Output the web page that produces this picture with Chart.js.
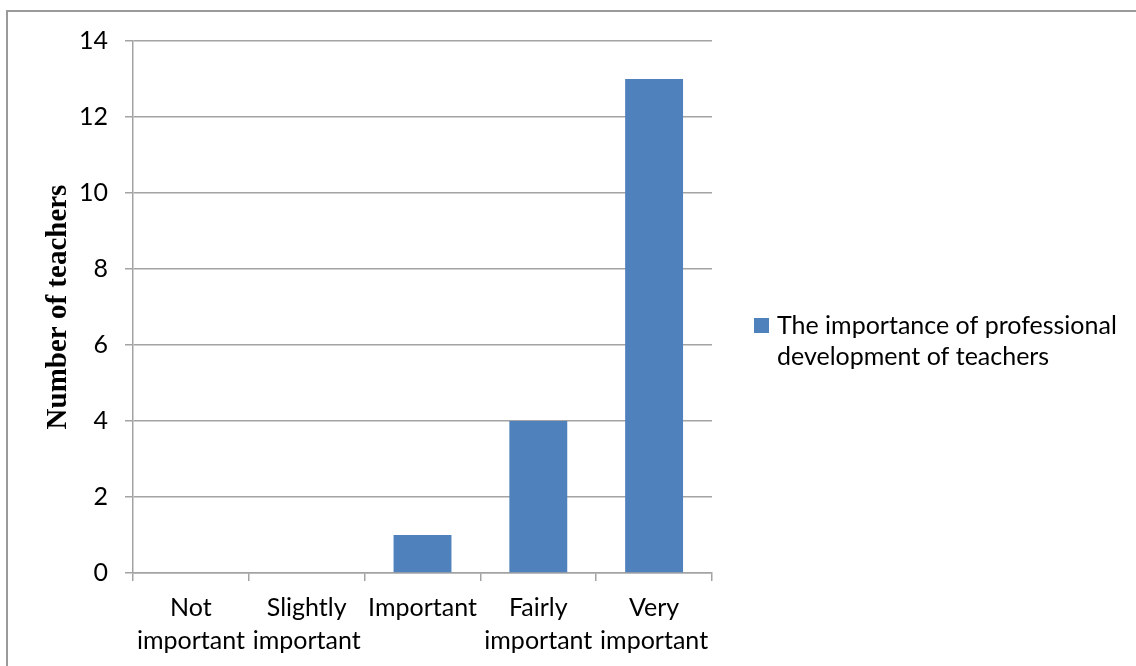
<!DOCTYPE html>
<html lang="en">
<head>
    <meta charset="UTF-8">
    <title>The importance of professional development of teachers</title>
    <script src="https://cdn.jsdelivr.net/npm/chart.js"></script>
    <style>
        html, body { margin: 0; padding: 0; background: #fff; }
        #wrap { width: 1136px; height: 666px; position: relative; }
    </style>
</head>
<body>
    <div id="wrap">
        <canvas id="myChart"></canvas>
    </div>

    <script>
        // chart data
        const categories = [
            ['Not', 'important'],
            ['Slightly', 'important'],
            ['Important'],
            ['Fairly', 'important'],
            ['Very', 'important']
        ];
        const teacherCounts = [0, 0, 1, 4, 13];
        const seriesLabel = 'The importance of professional development of teachers';
        const yMin = 0;
        const yMax = 14;
        const yStep = 2;

        const tickFont = { family: 'Lato', size: 25 };
        const gridColor = '#a3a3a3';

        // frame around the whole picture (cut off at right/bottom like the original)
        const framePlugin = {
            id: 'frame',
            beforeDraw(chart) {
                const c = chart.ctx;
                c.save();
                c.strokeStyle = '#9a9a9a';
                c.lineWidth = 2;
                c.strokeRect(7, 11, 1200, 700);
                c.restore();
            }
        };

        // legend on the right with wrapped text
        const sideLegend = {
            id: 'sideLegend',
            afterDraw(chart) {
                const c = chart.ctx;
                const ds = chart.data.datasets[0];
                const x = chart.chartArea.right + 42;
                const y = 326;
                c.save();
                c.fillStyle = ds.backgroundColor;
                c.fillRect(x, y - 8, 15, 15);
                c.font = '25px Lato';
                c.fillStyle = '#000';
                c.textBaseline = 'middle';
                // wrap words
                const maxW = 350;
                const words = ds.label.split(' ');
                const lines = [];
                let cur = '';
                words.forEach(w => {
                    const test = cur ? cur + ' ' + w : w;
                    if (c.measureText(test).width > maxW && cur) {
                        lines.push(cur);
                        cur = w;
                    } else {
                        cur = test;
                    }
                });
                if (cur) lines.push(cur);
                lines.forEach((ln, i) => c.fillText(ln, x + 23, y + i * 31));
                c.restore();
            }
        };

        const ctx = document.getElementById('myChart').getContext('2d');
        const chart = new Chart(ctx, {
            type: 'bar',
            data: {
                labels: categories,
                datasets: [{
                    label: seriesLabel,
                    data: teacherCounts,
                    backgroundColor: '#4f81bd',
                    borderWidth: 0,
                    categoryPercentage: 1.0,
                    barPercentage: 0.5
                }]
            },
            options: {
                responsive: true,
                maintainAspectRatio: false,
                animation: false,
                layout: {
                    padding: { top: 41, right: 424, left: 0, bottom: 0 }
                },
                plugins: {
                    legend: { display: false },
                    tooltip: { enabled: false }
                },
                scales: {
                    x: {
                        grid: {
                            offset: true,
                            drawOnChartArea: false,
                            color: gridColor,
                            lineWidth: 1.5,
                            tickLength: 8
                        },
                        border: { color: gridColor, width: 1.5 },
                        ticks: {
                            color: '#000',
                            font: { family: 'Lato', size: 25, lineHeight: 1.32 },
                            padding: 10,
                            maxRotation: 0,
                            autoSkip: false
                        },
                        afterFit(scale) { scale.height = 93; }
                    },
                    y: {
                        min: yMin,
                        max: yMax,
                        grid: {
                            color: gridColor,
                            lineWidth: 1.5,
                            tickLength: 8
                        },
                        border: { color: gridColor, width: 1.5 },
                        ticks: {
                            stepSize: yStep,
                            color: '#000',
                            font: tickFont,
                            padding: 17
                        },
                        title: {
                            display: true,
                            text: 'Number of teachers',
                            color: '#000',
                            font: { family: 'Liberation Serif', size: 29, weight: 'bold', lineHeight: 1.2 },
                            padding: { top: 41, bottom: 0 }
                        },
                        afterFit(scale) { scale.width = 133; }
                    }
                }
            },
            plugins: [framePlugin, sideLegend]
        });
    </script>
</body>
</html>
